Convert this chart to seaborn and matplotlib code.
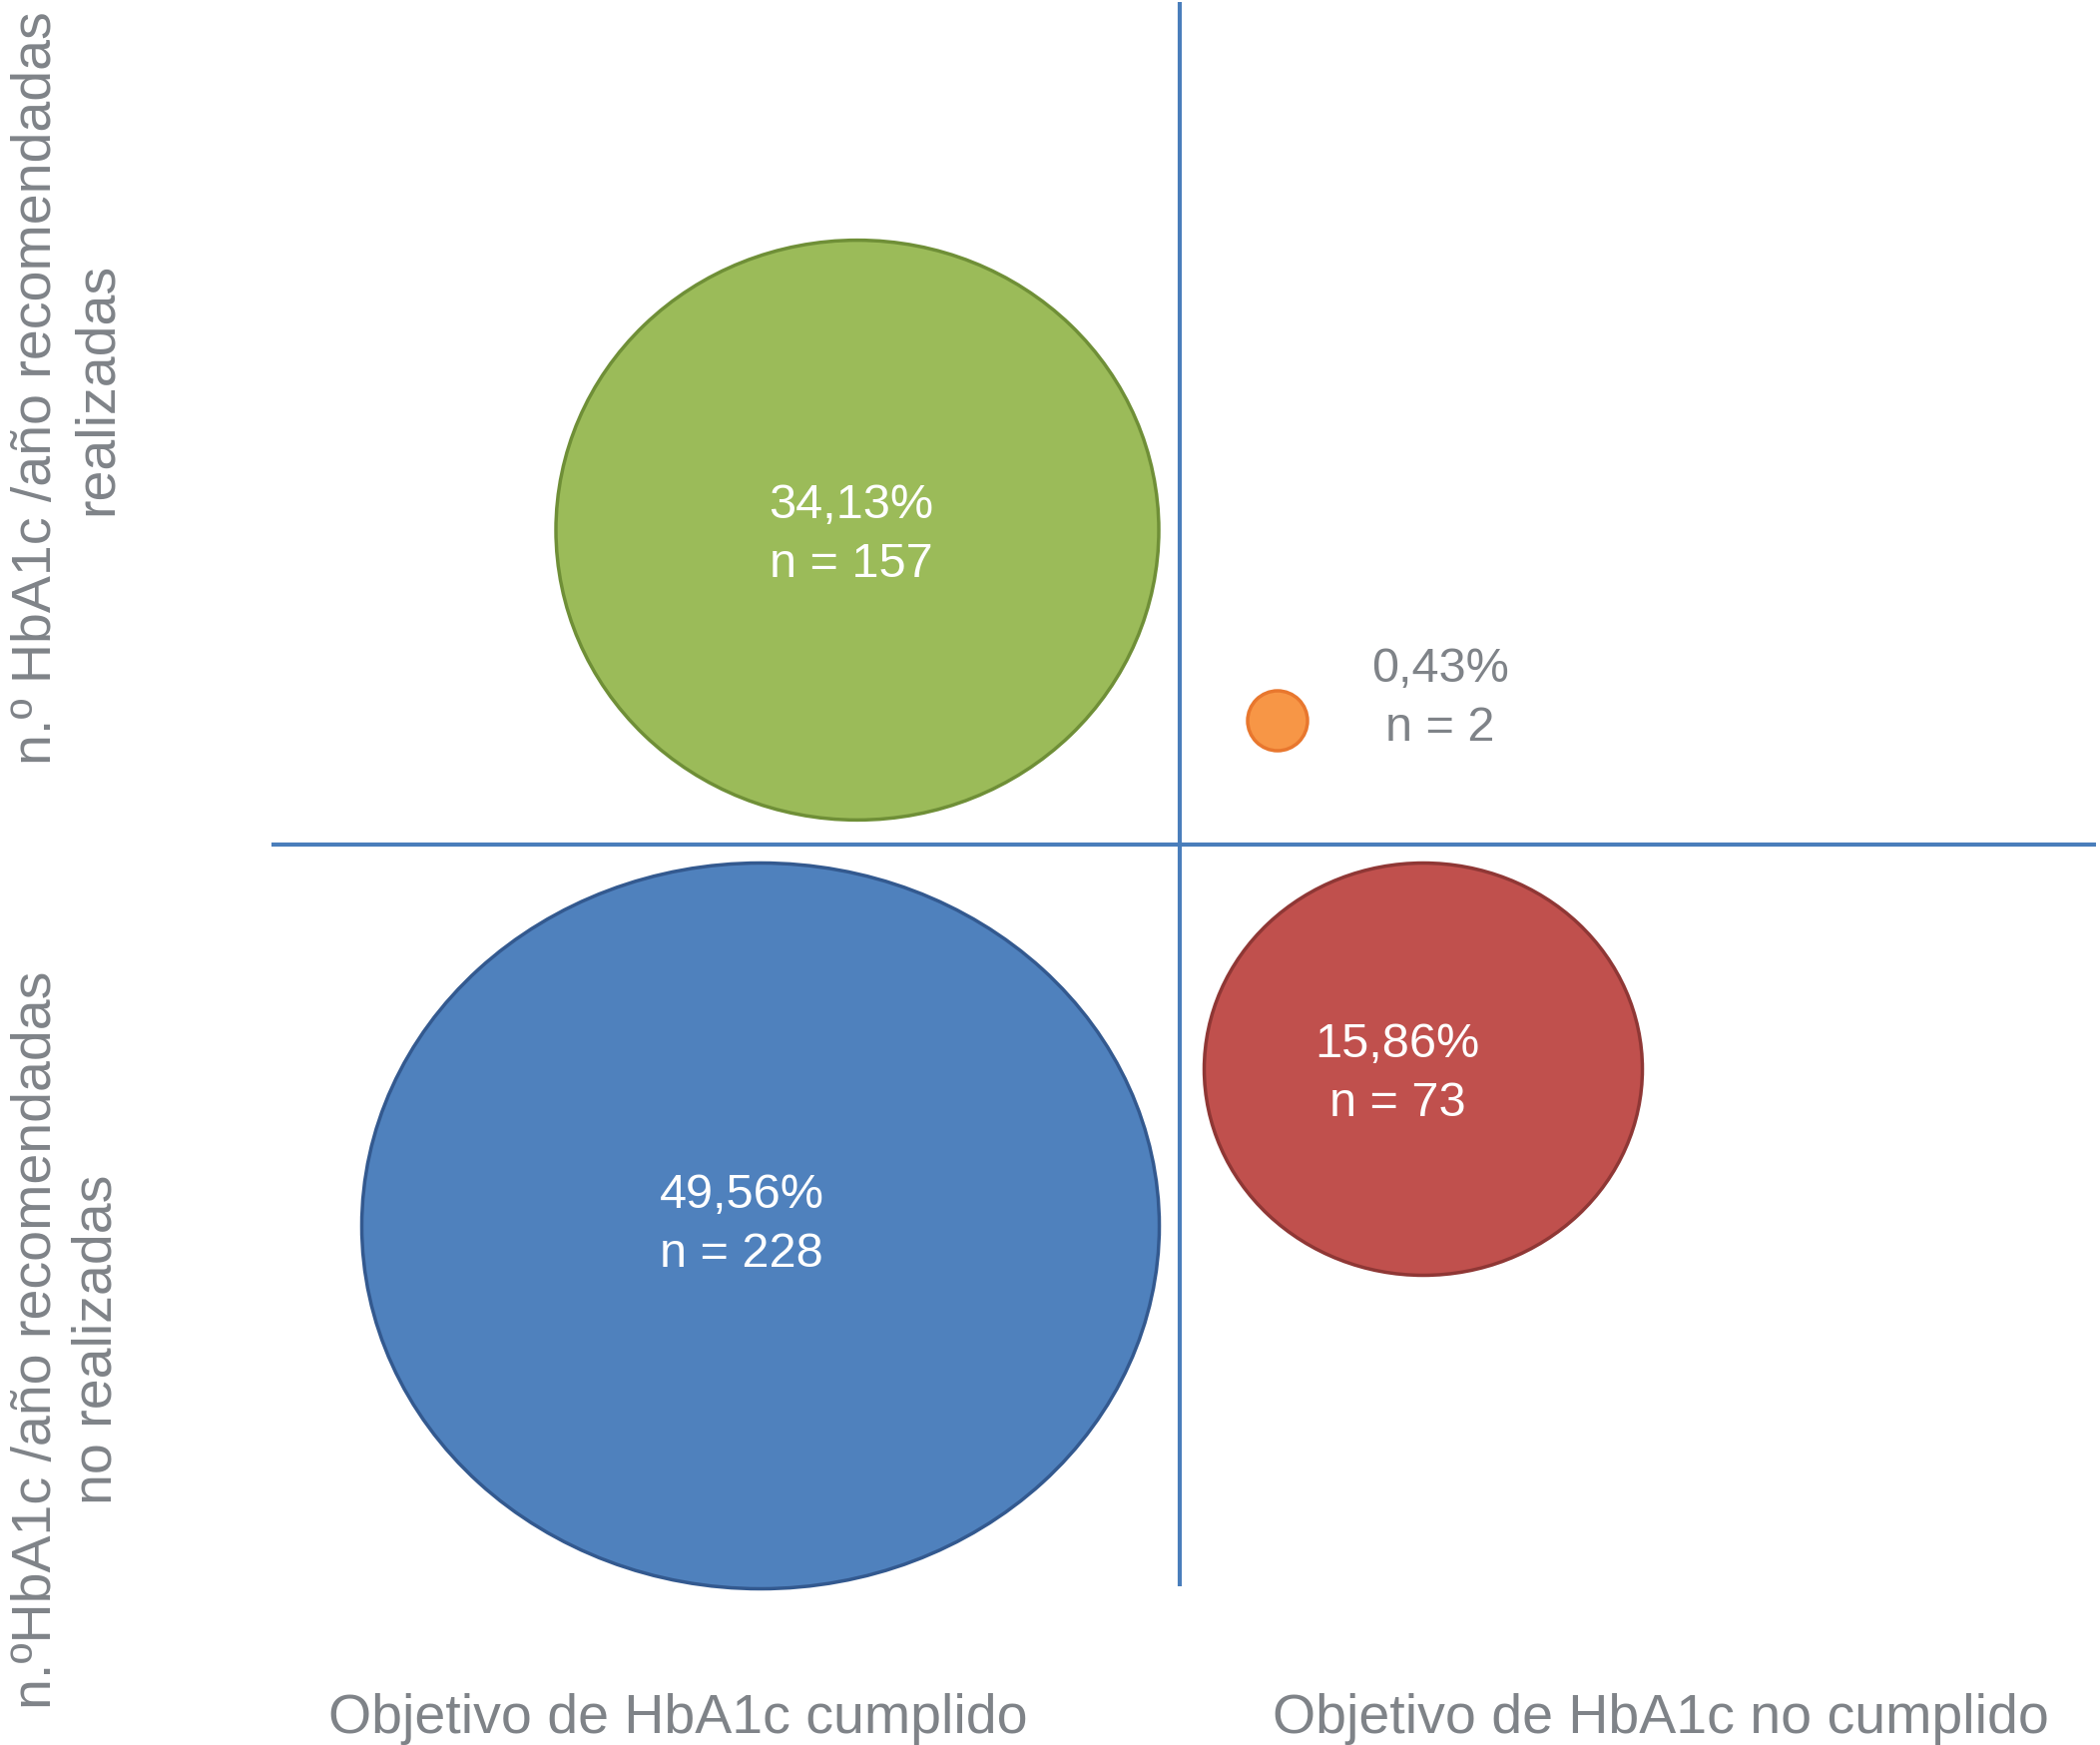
import matplotlib
matplotlib.use('Agg')
import matplotlib.pyplot as plt
import seaborn as sns
import pandas as pd
from matplotlib.path import Path
from matplotlib.transforms import Affine2D

# datos
objetivo = ['cumplido', 'no cumplido', 'cumplido', 'no cumplido']
determinaciones = ['realizadas', 'realizadas', 'no realizadas', 'no realizadas']
porcentaje = [34.13, 0.43, 49.56, 15.86]
n_pacientes = [157, 2, 228, 73]

x_labels = ['Objetivo de HbA1c cumplido', 'Objetivo de HbA1c no cumplido']
y_labels = ['n.º HbA1c /año recomendadas\nrealizadas',
            'n.ºHbA1c /año recomendadas\nno realizadas']

# colocación de las burbujas dentro de cada cuadrante (unidades del eje)
centro_x = [-3.23, 0.98, -4.20, 2.44]
centro_y = [3.15, 1.24, -3.82, -2.25]
texto_x = [-3.29, 2.61, -4.39, 2.18]
texto_y = [3.11, 1.47, -3.80, -2.29]


def elipse(aspecto):
    return Path.unit_circle().transformed(Affine2D().scale(aspecto, 1.0))


def main():
    sns.set_style('white')
    plt.rcParams['font.family'] = ['Liberation Sans', 'DejaVu Sans']

    df = pd.DataFrame({
        'grupo': [f'{o} / {d}' for o, d in zip(objetivo, determinaciones)],
        'n': n_pacientes,
        'x': centro_x,
        'y': centro_y,
    })

    colores = {
        'cumplido / realizadas': '#9bbb59',
        'no cumplido / realizadas': '#f79646',
        'cumplido / no realizadas': '#4f81bd',
        'no cumplido / no realizadas': '#c0504d',
    }
    bordes = ['#6f8f37', '#e8772e', '#33598f', '#8f3735']
    marcadores = {
        'cumplido / realizadas': elipse(1.04),
        'no cumplido / realizadas': elipse(1.0),
        'cumplido / no realizadas': elipse(1.099),
        'no cumplido / no realizadas': elipse(1.063),
    }
    tamanos = {157: 189130, 2: 1866, 228: 330970, 73: 99910}

    fig = plt.figure(figsize=(21.04, 17.49), dpi=100)
    ax = fig.add_axes([272 / 2104, 1 - 1590 / 1749, 1828 / 2104, 1587 / 1749])

    sns.scatterplot(data=df, x='x', y='y', hue='grupo', palette=colores,
                    size='n', sizes=tamanos, style='grupo', markers=marcadores,
                    edgecolor=bordes, linewidth=2.5, alpha=1, legend=False,
                    clip_on=False, zorder=3, ax=ax)

    ax.axhline(0, color='#4a7ebb', lw=3, zorder=2)
    ax.axvline(0, color='#4a7ebb', lw=3, zorder=2)

    for i in range(len(n_pacientes)):
        txt = f'{porcentaje[i]:.2f}%'.replace('.', ',') + f'\nn = {n_pacientes[i]}'
        color = '#7f8388' if n_pacientes[i] < 10 else 'white'
        ax.text(texto_x[i], texto_y[i], txt, ha='center', va='center',
                multialignment='center', fontsize=35, color=color,
                linespacing=1.38, zorder=4)

    ax.set_xlim(-9.10, 9.18)
    ax.set_ylim(-7.43, 8.44)
    ax.set_xticks([-5.03, 4.82], x_labels)
    ax.set_yticks([4.58, -4.95], y_labels)
    ax.tick_params(axis='x', length=0, pad=76, labelsize=40, labelcolor='#7f8388')
    ax.tick_params(axis='y', length=0, pad=107, labelsize=40, labelcolor='#7f8388')
    for lab in ax.get_yticklabels():
        lab.set_rotation(90)
        lab.set_va('center')
        lab.set_ha('right')
        lab.set_multialignment('center')
        lab.set_linespacing(1.22)
    ax.set_xlabel('')
    ax.set_ylabel('')
    sns.despine(ax=ax, left=True, bottom=True)

    fig.savefig('out.png', dpi=100)


if __name__ == '__main__':
    main()
